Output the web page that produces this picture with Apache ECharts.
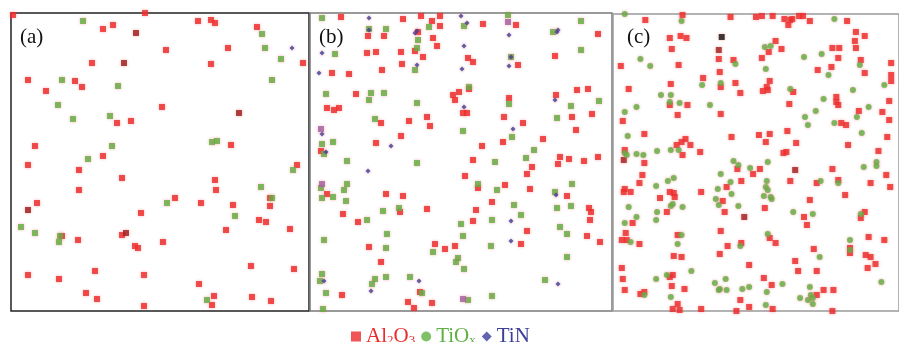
<!DOCTYPE html>
<html><head><meta charset="utf-8">
<script src="https://cdn.jsdelivr.net/npm/echarts@6/dist/echarts.min.js"></script>
<style>html,body{margin:0;padding:0;background:#fff}#c{width:899px;height:342px}</style>
</head><body><div id="c"></div>
<script>
// Panel labels and legend names
const panelLabels = ['(a)', '(b)', '(c)'];
const legendNames = ['Al2O3', 'TiOx', 'TiN'];

// ---- Panel (a) ----
const al2o3A = [[13,15],[145,13],[198,21],[211,20],[215,23],[257,27],[103,29],[113,25],[166,50],[228,48],[303,63],[92,63],[211,64],[28,80],[75,81],[82,87],[46,91],[162,107],[131,121],[117,123],[35,146],[231,145],[103,156],[28,165],[79,170],[122,178],[79,190],[215,180],[216,190],[297,165],[37,203],[175,198],[201,203],[233,205],[270,198],[270,206],[141,213],[259,220],[266,222],[290,229],[226,230],[122,235],[62,236],[78,240],[135,246],[138,248],[163,242],[28,275],[59,279],[95,271],[144,275],[251,266],[294,269],[199,284],[86,293],[97,299],[214,296],[212,305],[144,306],[252,297],[271,301]];
const al2o3DarkA = [[136,33],[124,63],[239,113],[28,210],[126,233]];
const tioxA = [[83,21],[262,34],[265,48],[281,59],[272,80],[62,80],[118,86],[58,105],[73,119],[110,116],[112,146],[212,142],[217,141],[88,159],[293,170],[261,187],[272,198],[167,203],[235,216],[21,227],[35,233],[60,236],[59,242],[207,300]];
const tinA = [[292,48]];

// ---- Panel (b) ----
const al2o3B = [[341,17],[403,19],[421,16],[440,16],[432,21],[440,26],[483,24],[516,25],[598,34],[368,36],[384,36],[418,32],[433,38],[437,46],[367,53],[376,52],[401,52],[415,51],[423,57],[468,58],[473,62],[518,65],[555,56],[402,64],[382,70],[332,73],[349,74],[356,94],[453,95],[459,92],[469,89],[455,100],[509,98],[556,95],[577,90],[588,89],[327,108],[334,110],[339,108],[463,113],[467,113],[427,117],[409,121],[381,123],[430,126],[504,117],[523,123],[572,117],[592,114],[576,130],[543,139],[401,136],[376,143],[482,146],[503,142],[321,151],[560,157],[569,159],[598,157],[473,160],[532,167],[527,174],[558,164],[584,161],[465,176],[505,185],[530,189],[478,188],[327,194],[386,194],[403,196],[492,202],[567,196],[589,208],[591,212],[427,209],[400,212],[476,210],[343,214],[358,222],[473,221],[590,220],[527,231],[587,236],[600,242],[369,247],[435,244],[445,249],[455,246],[521,244],[381,262],[342,295],[420,292],[408,302],[414,308],[432,303]];
const tioxB = [[322,18],[508,15],[581,21],[369,29],[386,29],[429,27],[464,26],[553,32],[418,40],[417,48],[335,54],[511,57],[581,50],[415,70],[326,94],[371,93],[369,100],[384,93],[469,87],[417,103],[509,104],[571,106],[599,101],[375,119],[557,118],[463,131],[512,137],[322,144],[333,142],[324,154],[534,150],[526,158],[347,161],[417,163],[495,162],[347,184],[344,190],[321,188],[322,198],[333,197],[346,201],[478,184],[497,190],[572,184],[555,192],[514,205],[557,208],[571,206],[383,211],[399,208],[521,215],[367,220],[461,224],[492,220],[560,227],[567,234],[387,234],[463,236],[324,240],[386,248],[491,246],[433,252],[458,258],[456,262],[567,257],[464,269],[322,274],[375,279],[372,284],[386,277],[410,277],[545,280],[320,281],[326,293],[422,293],[468,300],[492,296],[323,309]];
const tinB = [[369,18],[461,16],[467,23],[369,30],[415,33],[417,31],[558,30],[557,32],[509,35],[464,46],[322,53],[511,57],[509,66],[417,65],[462,69],[319,73],[555,100],[464,107],[513,129],[322,134],[391,146],[326,152],[368,171],[556,195],[511,221],[511,241],[324,281],[419,281],[558,284],[371,291]];
const mixedB = [[508,22],[321,129],[322,184],[463,299]];

// ---- Panel (c) ----
const al2o3C = [[684,15],[733,17],[759,17],[765,16],[776,16],[788,19],[794,20],[792,25],[796,19],[803,16],[807,16],[814,21],[852,21],[646,20],[671,38],[682,36],[688,38],[673,49],[721,59],[736,60],[779,41],[785,49],[772,52],[765,58],[837,48],[844,48],[843,58],[861,32],[870,36],[860,41],[861,48],[866,60],[897,63],[621,66],[680,65],[722,72],[705,78],[822,70],[836,67],[870,73],[897,75],[897,81],[773,81],[770,87],[766,91],[771,90],[672,84],[723,87],[738,83],[743,93],[629,89],[797,92],[671,105],[689,105],[841,97],[841,102],[843,105],[793,104],[895,101],[864,111],[888,112],[895,120],[679,115],[723,114],[623,121],[846,123],[851,125],[645,134],[734,137],[762,135],[773,134],[791,131],[769,142],[800,143],[853,145],[893,137],[678,145],[683,142],[687,139],[692,145],[684,155],[702,152],[787,153],[790,152],[884,151],[625,150],[645,163],[643,175],[640,183],[625,189],[624,192],[631,192],[661,198],[671,192],[675,193],[676,197],[668,212],[703,192],[744,181],[756,174],[763,169],[740,169],[729,187],[725,201],[727,212],[768,208],[837,169],[794,181],[821,183],[843,180],[876,183],[892,175],[896,187],[850,195],[814,200],[808,217],[811,225],[870,212],[866,218],[633,223],[626,233],[622,240],[627,240],[640,244],[679,235],[723,231],[773,238],[779,243],[744,243],[730,246],[874,237],[890,240],[818,249],[855,253],[855,248],[675,256],[683,257],[722,254],[871,255],[876,257],[799,261],[881,264],[752,265],[873,268],[622,268],[802,271],[821,271],[623,279],[671,277],[674,275],[767,278],[775,285],[673,286],[686,289],[625,290],[645,292],[641,294],[828,290],[838,290],[821,295],[743,300],[679,304],[752,307],[674,309],[681,310],[703,309],[739,311],[776,309],[837,311]];
const al2o3DarkC = [[721,50],[624,160],[747,217],[799,170]];
const blackC = [[724,37]];
const tioxC = [[625,14],[683,21],[839,19],[768,47],[774,46],[808,57],[826,54],[641,59],[651,66],[738,64],[769,69],[833,75],[865,65],[723,83],[704,85],[890,85],[794,89],[858,90],[662,95],[672,95],[671,102],[681,103],[712,105],[828,99],[637,107],[625,112],[874,107],[820,111],[809,117],[862,117],[839,123],[812,125],[867,133],[628,136],[637,154],[644,155],[658,151],[672,150],[680,150],[625,153],[627,155],[736,161],[741,165],[771,162],[753,168],[723,174],[733,182],[720,189],[734,194],[718,199],[721,205],[741,206],[770,181],[769,187],[771,190],[767,196],[774,197],[775,199],[675,178],[669,181],[657,186],[672,206],[674,204],[684,207],[629,207],[658,212],[657,220],[637,217],[625,223],[631,242],[683,235],[679,244],[743,246],[771,234],[825,181],[843,183],[869,167],[882,162],[882,166],[797,212],[817,214],[866,214],[855,240],[855,250],[824,257],[693,271],[668,275],[657,279],[717,283],[728,279],[722,289],[721,290],[729,290],[745,289],[752,287],[786,284],[770,292],[814,287],[804,298],[812,300],[815,295],[817,298],[817,304],[887,282],[645,295],[672,297],[769,305]];

const RED = '#ec2b2b', GREEN = '#5fb043', BLUE = '#3b3f98';
const panels = [
  {grid:{left:11, top:13, width:298, height:298, borderColor:'#222', borderWidth:1.5}, x:[11,309], y:[13,311]},
  {grid:{left:310, top:13, width:302, height:298, borderColor:'#7a7a7a', borderWidth:1.5}, x:[310,612], y:[13,311]},
  {grid:{left:613, top:14, width:292, height:297, borderColor:'#9a9a9a', borderWidth:1.5}, x:[613,905], y:[14,311]}
];
const grids = panels.map(p => Object.assign({show:true, backgroundColor:'#fff'}, p.grid));
const xAxes = panels.map((p,i) => ({gridIndex:i, type:'value', min:p.x[0], max:p.x[1], show:false}));
const yAxes = panels.map((p,i) => ({gridIndex:i, type:'value', min:p.y[0], max:p.y[1], inverse:true, show:false}));

const halo = {shadowBlur:3, shadowColor:'rgba(240,90,90,0.6)'};
function sc(name, idx, data, color, symbol, size, extra) {
  return Object.assign({
    name: name, type:'scatter', xAxisIndex:idx, yAxisIndex:idx, data:data,
    symbol:symbol, symbolSize:size, clip:false, silent:true,
    itemStyle:Object.assign({color:color}, halo)
  }, extra || {});
}
const series = [
  sc('Al2O3', 0, al2o3A, RED, 'rect', 6),
  sc('dark', 0, al2o3DarkA, '#9b1c1c', 'rect', 6),
  sc('TiOx', 0, tioxA, GREEN, 'rect', 6),
  sc('TiN', 0, tinA, BLUE, 'diamond', 5),
  sc('Al2O3', 1, al2o3B, RED, 'rect', 6),
  sc('TiOx', 1, tioxB, GREEN, 'rect', 6),
  sc('TiN', 1, tinB, BLUE, 'diamond', 5),
  sc('mixed', 1, mixedB, '#a062a8', 'rect', 6),
  sc('Al2O3', 2, al2o3C, RED, 'rect', 6),
  sc('dark', 2, al2o3DarkC, '#a11e1e', 'rect', 6),
  sc('black', 2, blackC, '#111', 'rect', 6),
  sc('TiOx', 2, tioxC, GREEN, 'circle', 6)
];

const chart = echarts.init(document.getElementById('c'), null, {renderer:'canvas'});
chart.setOption({
  animation:false,
  backgroundColor:'#fff',
  grid: grids, xAxis: xAxes, yAxis: yAxes,
  title: panelLabels.map((t,i) => ({
    text:t, left:[20,319,627][i], top:27, padding:0,
    textStyle:{fontFamily:'Liberation Serif', fontSize:21, fontWeight:'normal', color:'#111'}
  })),
  legend: {
    left: 346, top: 321, itemGap: 6, itemWidth: 10, itemHeight: 10,
    selectedMode:false,
    data: [
      {name:'Al2O3', icon:'rect'},
      {name:'TiOx', icon:'circle'},
      {name:'TiN', icon:'diamond'}
    ],
    formatter: function(n){
      if (n === 'Al2O3') return '{r|Al}{rs|2}{r|O}{rs|3}';
      if (n === 'TiOx') return '{g|TiO}{gs|x}';
      return '{b|TiN}';
    },
    textStyle: {
      rich: {
        r:{fontFamily:'Liberation Serif', fontSize:21, color:RED},
        rs:{fontFamily:'Liberation Serif', fontSize:13, color:RED, padding:[9,0,0,0]},
        g:{fontFamily:'Liberation Serif', fontSize:21, color:GREEN},
        gs:{fontFamily:'Liberation Serif', fontSize:13, color:GREEN, padding:[9,0,0,0]},
        b:{fontFamily:'Liberation Serif', fontSize:21, color:BLUE}
      }
    }
  },
  series: series
});
</script></body></html>
